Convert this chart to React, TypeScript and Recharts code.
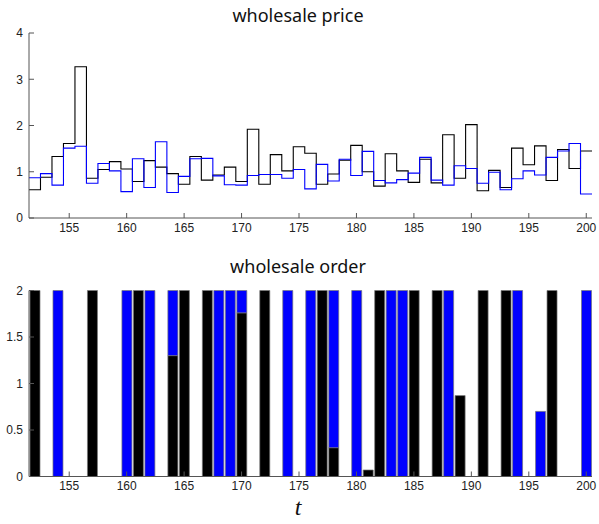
import React from 'react';
import { LineChart, Line, BarChart, Bar, XAxis, YAxis } from 'recharts';

// periods shown on the x axis
const days = [
  152, 153, 154, 155, 156, 157, 158, 159, 160, 161,
  162, 163, 164, 165, 166, 167, 168, 169, 170, 171,
  172, 173, 174, 175, 176, 177, 178, 179, 180, 181,
  182, 183, 184, 185, 186, 187, 188, 189, 190, 191,
  192, 193, 194, 195, 196, 197, 198, 199, 200,
];

// wholesale price, black agent
const priceBlack = [
  0.61, 0.88, 1.33, 1.61, 3.27, 0.86, 1.05, 1.22, 1.06, 0.79,
  1.24, 1.10, 0.96, 0.73, 1.33, 0.82, 0.93, 1.10, 0.79, 1.92,
  0.73, 1.37, 1.02, 1.54, 1.40, 0.73, 0.95, 1.25, 1.57, 1.00,
  0.69, 1.39, 1.02, 0.77, 1.27, 0.76, 1.80, 0.86, 2.02, 0.59,
  1.03, 0.66, 1.51, 1.15, 1.56, 0.81, 1.48, 1.07, 1.45,
];

// wholesale price, blue agent
const priceBlue = [
  0.87, 0.96, 0.71, 1.51, 1.55, 0.75, 1.18, 1.02, 0.57, 1.28,
  0.66, 1.65, 0.55, 0.90, 1.28, 1.29, 0.91, 0.72, 0.71, 0.92,
  0.94, 0.94, 0.86, 1.05, 0.63, 1.16, 0.80, 1.27, 0.92, 1.44,
  0.81, 0.76, 0.83, 0.97, 1.31, 0.82, 0.71, 1.13, 1.07, 0.75,
  0.99, 0.61, 0.85, 1.02, 0.93, 1.31, 1.45, 1.61, 0.52,
];

// wholesale order (stacked: black at the bottom, blue on top)
const orderBlack = [
  2, 0, 0, 0, 0, 2, 0, 0, 0, 2,
  0, 0, 1.3, 2, 0, 2, 0, 0, 1.76, 0,
  2, 0, 0, 0, 0, 2, 0.31, 0, 0, 0.07,
  2, 0, 0, 2, 0, 2, 0, 0.87, 0, 2,
  0, 2, 0, 0, 0, 2, 0, 0, 0,
];

const orderBlue = [
  0, 0, 2, 0, 0, 0, 0, 0, 2, 0,
  2, 0, 0.7, 0, 0, 0, 2, 2, 0.24, 0,
  0, 0, 2, 0, 2, 0, 1.69, 0, 2, 0,
  0, 2, 2, 0, 0, 0, 2, 0, 0, 0,
  0, 0, 2, 0, 0.7, 0, 0, 0, 2,
];

const xTicks = [155, 160, 165, 170, 175, 180, 185, 190, 195, 200];
const priceTicks = [0, 1, 2, 3, 4];
const orderTicks = [0, 0.5, 1, 1.5, 2];

// stairs: each value covers [day - 0.5, day + 0.5]
const priceData = days.map((d, i) => ({ t: d - 0.5, black: priceBlack[i], blue: priceBlue[i] }));
priceData.push({
  t: days[days.length - 1] + 0.5,
  black: priceBlack[priceBlack.length - 1],
  blue: priceBlue[priceBlue.length - 1],
});

const orderData = days.map((d, i) => ({ t: d, black: orderBlack[i], blue: orderBlue[i] }));

const axisColor = '#555';
const tickFont = { fontFamily: 'Liberation Sans, Arial, sans-serif', fontSize: 12, fill: '#222' };
const titleStyle: React.CSSProperties = {
  position: 'absolute',
  left: 198,
  width: 200,
  textAlign: 'center',
  fontFamily: '"Noto Sans", sans-serif',
  fontSize: 18,
  color: '#111',
  lineHeight: '20px',
};

export default function App() {
  return (
    <div style={{ position: 'absolute', left: 0, top: 0, width: 599, height: 524, background: '#fff' }}>
      <div style={{ ...titleStyle, top: 5 }}>wholesale price</div>
      <div style={{ position: 'absolute', left: 0, top: 0 }}>
        <LineChart width={599} height={250} data={priceData} margin={{ top: 33, right: 7, bottom: 0, left: 0 }}>
          <XAxis
            dataKey="t"
            type="number"
            domain={[151.5, 200.5]}
            ticks={xTicks}
            allowDataOverflow
            height={32}
            tickSize={-5}
            tickMargin={10}
            tick={tickFont}
            stroke={axisColor}
            tickLine={{ stroke: axisColor }}
          />
          <YAxis
            type="number"
            domain={[0, 4]}
            ticks={priceTicks}
            width={29}
            tickSize={-5}
            tickMargin={11}
            tick={tickFont}
            stroke={axisColor}
            tickLine={{ stroke: axisColor }}
          />
          <Line type="stepAfter" dataKey="black" stroke="#000" strokeWidth={1.1} dot={false} isAnimationActive={false} />
          <Line type="stepAfter" dataKey="blue" stroke="#0000ff" strokeWidth={1.1} dot={false} isAnimationActive={false} />
        </LineChart>
      </div>

      <div style={{ ...titleStyle, top: 256 }}>wholesale order</div>
      <div style={{ position: 'absolute', left: 0, top: 250 }}>
        <BarChart width={599} height={274} data={orderData} margin={{ top: 40.5, right: 7, bottom: 0, left: 0 }}>
          <XAxis
            dataKey="t"
            type="number"
            domain={[151.5, 200.5]}
            ticks={xTicks}
            allowDataOverflow
            height={47.5}
            tickSize={-5}
            tickMargin={10}
            tick={tickFont}
            stroke={axisColor}
            tickLine={{ stroke: axisColor }}
          />
          <YAxis
            type="number"
            domain={[0, 2]}
            ticks={orderTicks}
            width={29}
            tickSize={-5}
            tickMargin={11}
            tick={tickFont}
            stroke={axisColor}
            tickLine={{ stroke: axisColor }}
          />
          <Bar dataKey="black" stackId="o" fill="#000" stroke="#777" strokeWidth={0.7} barSize={10} isAnimationActive={false} />
          <Bar dataKey="blue" stackId="o" fill="#0000ff" stroke="#777" strokeWidth={0.7} barSize={10} isAnimationActive={false} />
        </BarChart>
      </div>

      <div
        style={{
          position: 'absolute',
          left: 278,
          top: 494,
          width: 40,
          textAlign: 'center',
          fontFamily: '"Liberation Serif", serif',
          fontStyle: 'italic',
          fontSize: 24,
          lineHeight: '26px',
          color: '#111',
        }}
      >
        t
      </div>
    </div>
  );
}
